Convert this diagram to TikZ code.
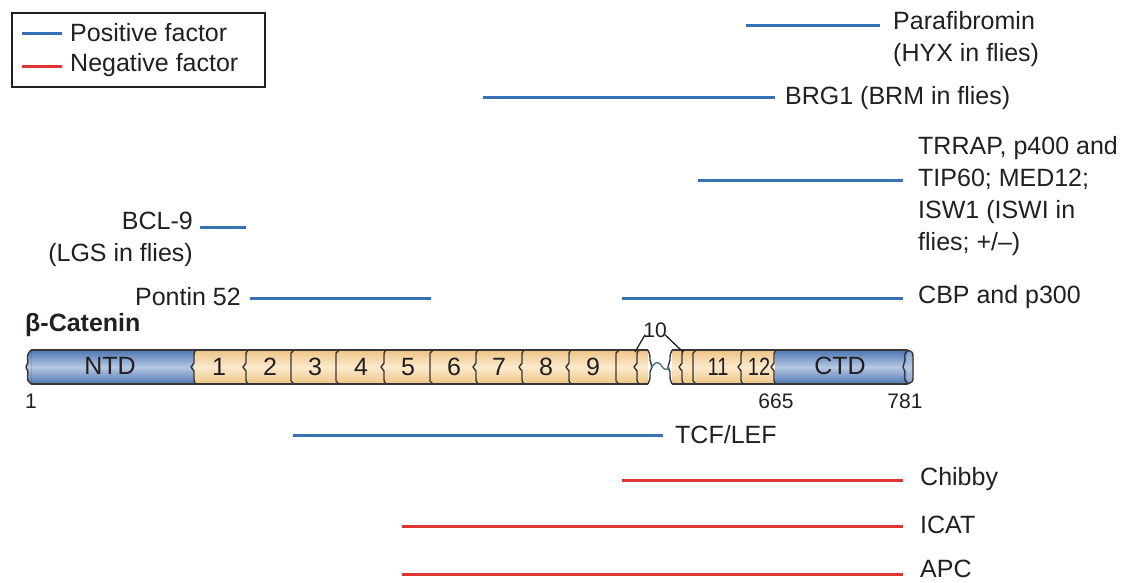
\documentclass[tikz,border=0pt]{standalone}
\usepackage{fontspec}
\setmainfont{Liberation Sans}
\usetikzlibrary{positioning}
\definecolor{posblue}{RGB}{55,112,180}
\definecolor{negred}{RGB}{222,52,52}
\definecolor{ink}{RGB}{35,31,32}
\definecolor{blueedge}{RGB}{78,118,178}
\definecolor{bluemid}{RGB}{182,200,228}
\definecolor{tanedge}{RGB}{238,196,134}
\definecolor{tanmid}{RGB}{252,234,204}
\definecolor{linker}{RGB}{60,112,125}
\begin{document}
\begin{tikzpicture}[x=1pt,y=-1pt,
  every node/.style={text=ink,inner sep=0pt,font=\fontsize{25}{32}\selectfont},
  posfac/.style={draw=posblue,line width=3pt},
  negfac/.style={draw=negred,line width=3pt},
  lbl/.style={anchor=west,align=left},
  barline/.style={draw=ink!90,line width=1.4pt,line join=round},
  bluefill/.style={top color=blueedge,bottom color=blueedge,middle color=bluemid,shading=axis},
  tanfill/.style={top color=tanedge,bottom color=tanedge,middle color=tanmid,shading=axis},
  dom/.style={font=\fontsize{25}{28}\selectfont},
  num/.style={font=\fontsize{21}{26}\selectfont},
  brk/.pic={\draw[barline] (1,0) .. controls (-1,2) .. (-1,8) -- (-1,13) -- (-4,17) -- (-1,21) -- (-1,26) .. controls (-1,32) .. (1,34);},
  sqb/.pic={\draw[barline] (1,0) -- (-2,3) -- (-2,31) -- (1,34);}
]
\useasboundingbox (0,0) rectangle (1122,582);

% legend
\draw[ink,line width=1.4pt] (12,13) rectangle (265,87);
\coordinate (lp1) at (22,33); \coordinate (lp2) at (62,33);
\coordinate (ln1) at (22,66); \coordinate (ln2) at (62,66);
\draw[posfac] (lp1) -- (lp2);
\draw[negfac] (ln1) -- (ln2);
\node[lbl] (lpos) at (70,33) {Positive factor};
\node[lbl] (lneg) at (70,65) {Negative factor};

% positive factors above the protein
\node[lbl,anchor=north west] (para) at (893,11) {Parafibromin\\(HYX in flies)};
\coordinate (para0) at (746,25); \coordinate (para1) at (880,25);
\draw[posfac] (para0) -- (para1);

\node[lbl] (brg) at (785,98) {BRG1 (BRM in flies)};
\coordinate (brg0) at (483,97); \coordinate (brg1) at (775,97);
\draw[posfac] (brg0) -- (brg1);

\node[lbl] (trrap) at (918,196) {TRRAP, p400 and\\TIP60; MED12;\\ISW1 (ISWI in\\flies; +/--)};
\coordinate (trrap0) at (698,180); \coordinate (trrap1) at (903,180);
\draw[posfac] (trrap0) -- (trrap1);

\node[anchor=east,align=right] (bcl) at (193,239) {BCL-9\\(LGS in flies)};
\coordinate (bcl0) at (200,227); \coordinate (bcl1) at (246,227);
\draw[posfac] (bcl0) -- (bcl1);

\node[anchor=east] (pontin) at (241,297) {Pontin 52};
\coordinate (pon0) at (250,298); \coordinate (pon1) at (431,298);
\draw[posfac] (pon0) -- (pon1);

\node[lbl] (cbp) at (918,297) {CBP and p300};
\coordinate (cbp0) at (622,298); \coordinate (cbp1) at (903,298);
\draw[posfac] (cbp0) -- (cbp1);

% beta-catenin domain bar
\node[anchor=west,font=\fontsize{25}{28}\selectfont\bfseries] (bcat) at (25,325) {β-Catenin};

\fill[bluefill] (31,350) rectangle (194,384);
\fill[tanfill] (194,350) rectangle (648,384);
\fill[tanfill] (672,350) rectangle (775,384);
\fill[bluefill] (775,350) rectangle (907,384);
\fill[top color=blueedge!70!white,bottom color=blueedge!70!white,middle color=bluemid,shading=axis] (907,350) .. controls (913,352) .. (913,358) -- (913,376) .. controls (913,382) .. (907,384) -- cycle;
\fill[bluefill] (31,350) .. controls (27,355) .. (28,362) -- (26,367) -- (28,372) .. controls (27,380) .. (31,384) -- cycle;

% outline of the two bar halves
\draw[barline] (31,350) -- (648,350) (31,384) -- (648,384);
\draw[barline] (672,350) -- (907,350) (672,384) -- (907,384);
\draw[barline] (31,350) .. controls (27,355) .. (28,362) -- (26,367) -- (28,372) .. controls (27,380) .. (31,384);
\draw[barline] (907,350) .. controls (913,352) .. (913,358) -- (913,376) .. controls (913,382) .. (907,384);
\draw[barline] (909,350) .. controls (904,354) .. (905,360) -- (903,367) -- (905,372) .. controls (904,380) .. (909,384);
\draw[barline] (648,350) .. controls (650,355) .. (650,360) -- (652,367) -- (650,372) .. controls (650,380) .. (648,384);
\draw[barline] (672,350) .. controls (670,355) .. (670,360) -- (668,367) -- (670,372) .. controls (670,380) .. (672,384);

% repeat boundaries
\foreach \bx in {195,247,385,477,523,570,638,683,742,775}
  \pic at (\bx,350) {brk};
\foreach \bx in {293,338,432,618,695}
  \pic at (\bx,350) {sqb};

% domain labels
\node[dom] (ntd) at (110,366) {NTD};
\node[dom] (ctd) at (840,366) {CTD};
\foreach \lab/\cx in {1/219,2/270,3/315,4/361,5/408,6/454,7/499,8/546,9/593}
  \node[dom] (r\lab) at (\cx,367) {\lab};
\node[dom,xscale=0.8] (r11) at (718,367) {11};
\node[dom,xscale=0.8] (r12) at (759,367) {12};

% linker between the halves of repeat 10
\draw[linker,line width=1.3pt] (651,368) .. controls (655,362) and (658,361) .. (661,365) .. controls (664,370) and (667,371) .. (669,367);
\node[num] (r10) at (655,330) {10};
\coordinate (r10a) at (635,352); \coordinate (r10b) at (683,352);
\draw[ink,line width=1.3pt] (r10.south west) ++(2,-3) -- (r10a);
\draw[ink,line width=1.3pt] (r10.south east) ++(-2,-3) -- (r10b);

% residue numbers
\node[num] (n1) at (31,401) {1};
\node[num] (n665) at (776,401) {665};
\node[num] (n781) at (905,401) {781};

% factors below the protein
\node[lbl] (tcf) at (675,435) {TCF/LEF};
\coordinate (tcf0) at (293,435); \coordinate (tcf1) at (663,435);
\draw[posfac] (tcf0) -- (tcf1);

\node[lbl] (chibby) at (920,479) {Chibby};
\coordinate (chb0) at (622,480); \coordinate (chb1) at (903,480);
\draw[negfac] (chb0) -- (chb1);

\node[lbl] (icat) at (920,525) {ICAT};
\coordinate (icat0) at (402,526); \coordinate (icat1) at (903,526);
\draw[negfac] (icat0) -- (icat1);

\node[lbl] (apc) at (920,569) {APC};
\coordinate (apc0) at (402,574); \coordinate (apc1) at (903,574);
\draw[negfac] (apc0) -- (apc1);
\end{tikzpicture}
\end{document}
